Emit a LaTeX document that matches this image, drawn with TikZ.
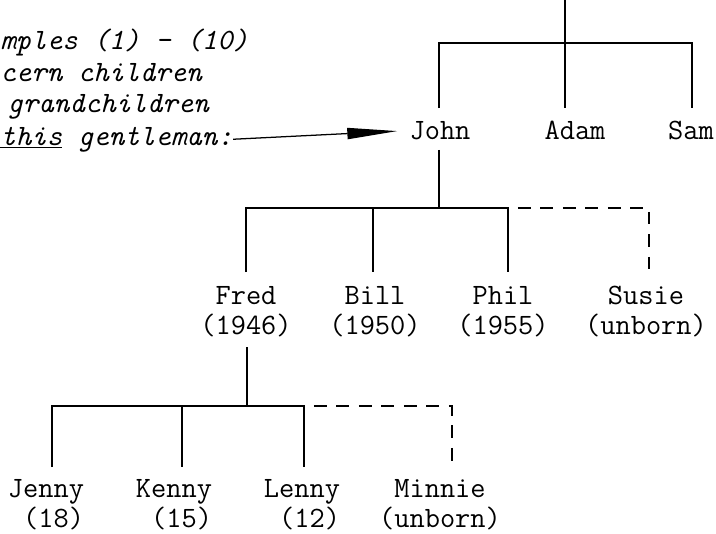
\documentclass[tikz,border=0pt]{standalone}
\usetikzlibrary{arrows.meta}
\begin{document}
\begin{tikzpicture}[x = 0.025cm, y = -0.025cm,
        person/.style = {font = \ttfamily\fontsize{21}{21.3}\selectfont, align = center, anchor = north, inner sep = 0pt},
        remark/.style = {font = \ttfamily\itshape\fontsize{21}{22.3}\selectfont, align = left, inner sep = 0pt},
        branch/.style = {line width = 1.5pt},
        unborn/.style = {line width = 1.3pt, dash pattern = on 9pt off 7pt, dash phase = 9pt},
        pointer/.style = {line width = 0.9pt, shorten > = 0.3cm, -{Triangle[length = 1.25cm, width = 0.28cm]}}]
    \useasboundingbox (0, 0) rectangle (716, 533);

    % remark on the left, cut by the page edge
    \node [remark, anchor = north west] (note) at (0, 29) {mples (1) - (10)\\cern children\\\hspace*{5pt}grandchildren};
    \node [remark, anchor = base west] (gent) at (0, 145) {\underline{this} gentleman:};

    % John and his brothers
    \coordinate (root) at (565, 0);
    \coordinate (top bar) at (565, 43);
    \coordinate (john drop) at (439, 108);
    \coordinate (adam drop) at (565, 108);
    \coordinate (sam drop) at (692, 108);
    \node [person] (john) at (440, 121) {John};
    \node [person] (adam) at (575, 121) {Adam};
    \node [person] (sam) at (691, 121) {Sam};
    \draw [branch] (root) -- (top bar);
    \draw [branch] (john drop) |- (top bar) -| (sam drop);
    \draw [branch] (top bar) -- (adam drop);
    \draw [pointer] (gent.east) -- (john.west);

    % children of John
    \coordinate (john bar) at (439, 208);
    \coordinate (fred drop) at (246, 272);
    \coordinate (bill drop) at (373, 272);
    \coordinate (phil drop) at (508, 272);
    \coordinate (susie drop) at (649, 272);
    \node [person] (fred) at (246, 286) {Fred\\(1946)};
    \node [person] (bill) at (375, 286) {Bill\\(1950)};
    \node [person] (phil) at (503, 286) {Phil\\(1955)};
    \node [person] (susie) at (646, 286) {Susie\\(unborn)};
    \draw [branch] ([yshift = -0.25cm] john.south -| john bar) -- (john bar);
    \draw [branch] (fred drop) |- (john bar) -| (phil drop);
    \draw [branch] (bill drop |- john bar) -- (bill drop);
    \draw [unborn] (phil drop |- john bar) -| (susie drop);

    % grandchildren through Fred
    \coordinate (fred bar) at (247, 406);
    \coordinate (jenny drop) at (52, 467);
    \coordinate (kenny drop) at (182, 467);
    \coordinate (lenny drop) at (304, 467);
    \coordinate (minnie drop) at (452, 467);
    \node [person, align = right] (jenny) at (46, 479) {Jenny\\(18)};
    \node [person, align = right] (kenny) at (174, 479) {Kenny\\(15)};
    \node [person, align = right] (lenny) at (302, 479) {Lenny\\(12)};
    \node [person] (minnie) at (440, 479) {Minnie\\(unborn)};
    \draw [branch] ([yshift = -0.25cm] fred.south -| fred bar) -- (fred bar);
    \draw [branch] (jenny drop) |- (fred bar) -| (lenny drop);
    \draw [branch] (kenny drop |- fred bar) -- (kenny drop);
    \draw [unborn] (lenny drop |- fred bar) -| (minnie drop);
\end{tikzpicture}
\end{document}
